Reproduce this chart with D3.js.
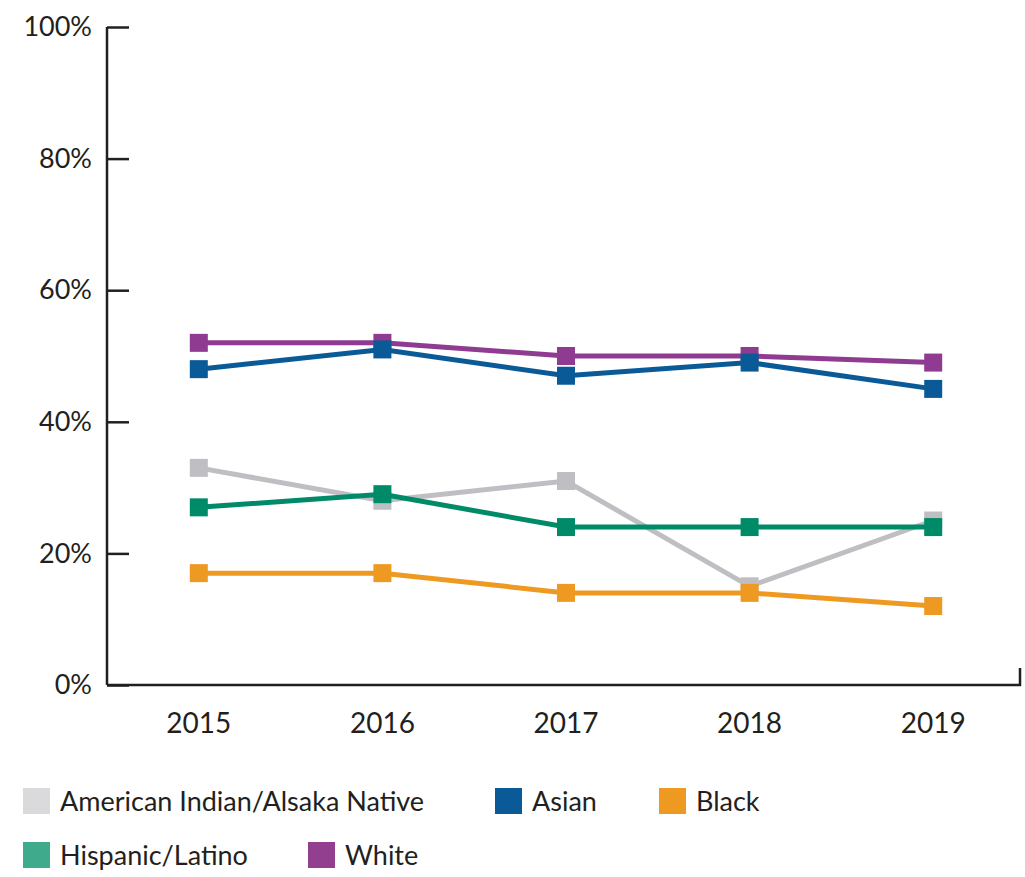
<!DOCTYPE html>
<meta charset="utf-8">
<head>
    <style>
        body { margin: 0; background: #fff; }
        text { font-family: Lato, "Open Sans", sans-serif; fill: #231f20; }
    </style>
    <script src="https://d3js.org/d3.v7.min.js"></script>
</head>
<body>
<script>

    // data
    var years = ["2015", "2016", "2017", "2018", "2019"];
    var yTicks = [0, 20, 40, 60, 80, 100];
    var seriesNames = ["White", "Asian", "American Indian/Alsaka Native", "Hispanic/Latino", "Black"];
    var whiteVals = [52, 52, 50, 50, 49];
    var asianVals = [48, 51, 47, 49, 45];
    var aianVals = [33, 28, 31, 15, 25];
    var hispanicVals = [27, 29, 24, 24, 24];
    var blackVals = [17, 17, 14, 14, 12];

    var lineColors = ["#8e3b91", "#0b5a98", "#bfbfc3", "#008b68", "#ee9a22"];
    var legendColors = ["#923f8f", "#0b5a98", "#dadadc", "#3faa8c", "#ee9a22"];

    var series = seriesNames.map(function (n, i) {
        return {name: n, values: [whiteVals, asianVals, aianVals, hispanicVals, blackVals][i],
                color: lineColors[i], legend: legendColors[i]};
    });

    var width = 1025, height = 877;

    var svg = d3.select("body").append("svg")
        .attr("width", width)
        .attr("height", height);

    var x = d3.scalePoint().domain(years).range([107, 1025]).padding(0.5);
    var y = d3.scaleLinear().domain([0, 100]).range([685, 27]);

    // y axis: ticks point inward
    var yAxis = svg.append("g").attr("transform", "translate(107,0)")
        .call(d3.axisRight(y).tickValues(yTicks).tickSize(22).tickFormat(function (d) { return d + "%"; }));
    yAxis.select(".domain").remove();
    yAxis.selectAll(".tick line").attr("stroke", "#231f20").attr("stroke-width", 2.5);
    yAxis.selectAll(".tick text")
        .attr("x", -15)
        .attr("text-anchor", "end")
        .attr("font-size", 27)
        .attr("fill", "#231f20");

    svg.append("line").attr("x1", 107).attr("x2", 107).attr("y1", y(100)).attr("y2", y(0))
        .attr("stroke", "#231f20").attr("stroke-width", 2.5);
    svg.append("path")
        .attr("d", "M107," + y(0) + "H1020V" + (y(0) - 17))
        .attr("fill", "none").attr("stroke", "#231f20").attr("stroke-width", 2.5);

    // x labels
    svg.append("g").selectAll("text").data(years).enter().append("text")
        .attr("x", function (d) { return x(d); })
        .attr("y", 733)
        .attr("text-anchor", "middle")
        .attr("font-size", 28)
        .text(function (d) { return d; });

    var line = d3.line()
        .x(function (d, i) { return x(years[i]); })
        .y(function (d) { return y(d); });

    var groups = svg.append("g").selectAll("g").data(series).enter().append("g");

    groups.append("path")
        .attr("d", function (d) { return line(d.values); })
        .attr("fill", "none")
        .attr("stroke", function (d) { return d.color; })
        .attr("stroke-width", 5);

    var ms = 18;
    groups.selectAll("rect").data(function (d) {
        return d.values.map(function (v, i) { return {v: v, i: i, color: d.color}; });
    }).enter().append("rect")
        .attr("x", function (d) { return x(years[d.i]) - ms / 2; })
        .attr("y", function (d) { return y(d.v) - ms / 2; })
        .attr("width", ms)
        .attr("height", ms)
        .attr("fill", function (d) { return d.color; });

    // legend
    var legendItems = [
        {s: series[2], x: 23, y: 801},
        {s: series[1], x: 495, y: 801},
        {s: series[4], x: 659, y: 801},
        {s: series[3], x: 23, y: 855},
        {s: series[0], x: 308, y: 855}
    ];
    var lg = svg.append("g").selectAll("g").data(legendItems).enter().append("g")
        .attr("transform", function (d) { return "translate(" + d.x + "," + d.y + ")"; });
    lg.append("rect").attr("x", 0).attr("y", -13).attr("width", 27).attr("height", 26)
        .attr("fill", function (d) { return d.s.legend; });
    lg.append("text").attr("x", 37).attr("y", 10)
        .attr("font-size", 27)
        .text(function (d) { return d.s.name; });

</script>
</body>
